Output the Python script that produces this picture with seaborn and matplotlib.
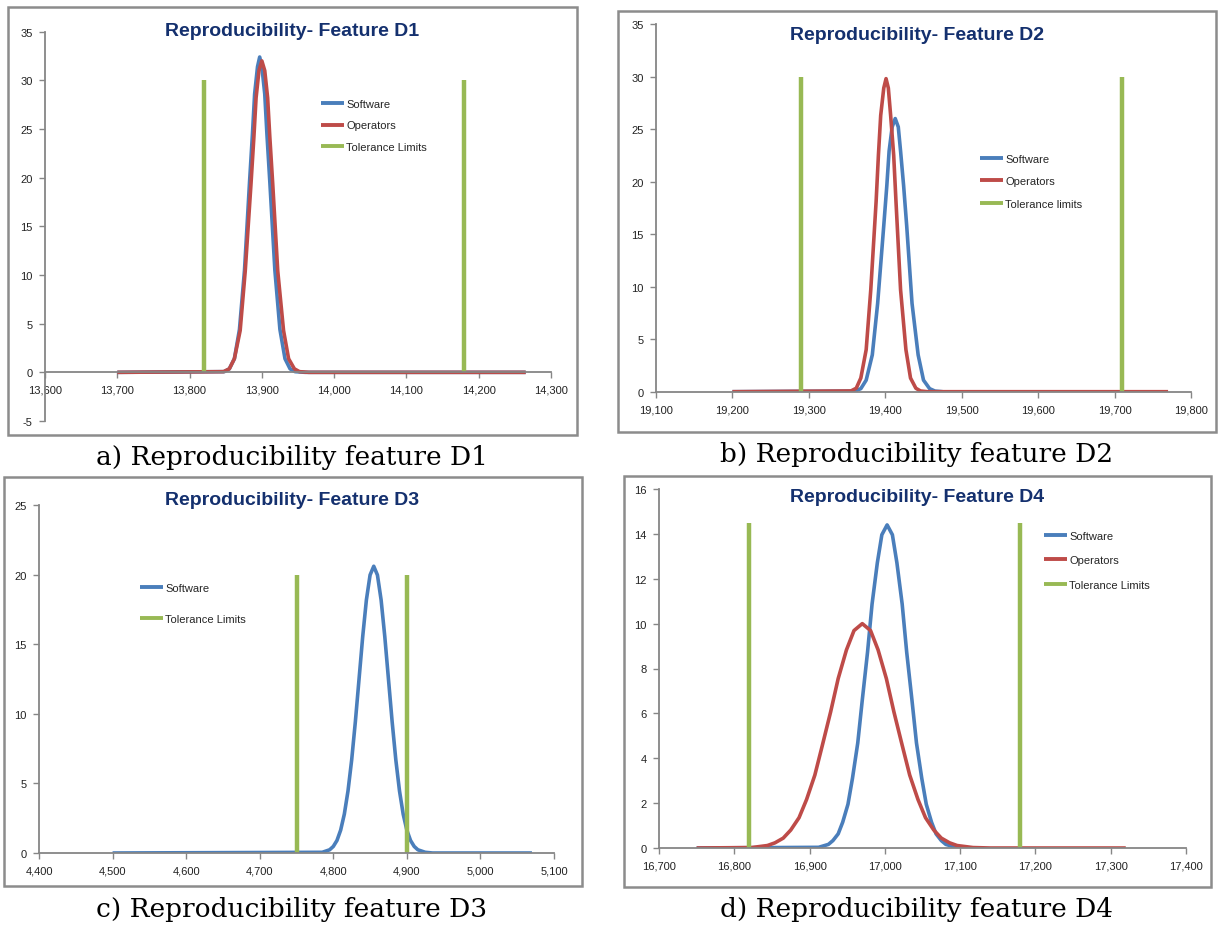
import matplotlib
matplotlib.use("Agg")
import matplotlib.pyplot as plt
import seaborn as sns
from matplotlib.lines import Line2D
from matplotlib.patches import Rectangle
from matplotlib.ticker import FuncFormatter, MultipleLocator

# --- data ---
# a) D1
d1_sw_x = [13700, 13848, 13855, 13862, 13869, 13876, 13883, 13887, 13890, 13894, 13897, 13900, 13904, 13907,
           13911, 13918, 13925, 13932, 13939, 13946, 13960, 14265]
d1_sw_y = [0, 0.07, 0.36, 1.4, 4.4, 10.5, 19.6, 24.5, 28.6, 31.4, 32.4, 31.4, 28.6, 24.5,
           19.6, 10.5, 4.4, 1.4, 0.36, 0.07, 0, 0]
d1_op_x = [13700, 13847, 13855, 13862, 13870, 13877, 13885, 13889, 13892, 13896, 13900, 13904, 13908, 13911,
           13915, 13922, 13930, 13937, 13945, 13952, 13965, 14265]
d1_op_y = [0, 0.07, 0.36, 1.4, 4.3, 10.4, 19.4, 24.2, 28.2, 31.0, 32.0, 31.0, 28.2, 24.2,
           19.4, 10.4, 4.3, 1.4, 0.36, 0.07, 0, 0]
d1_tol = [13820, 14180]
d1_tol_h = 30

# b) D2
d2_sw_x = [19200, 19360, 19368, 19375, 19383, 19390, 19398, 19402, 19405, 19409, 19413, 19417, 19420, 19424,
           19428, 19435, 19443, 19450, 19458, 19465, 19475]
d2_sw_y = [0, 0.06, 0.29, 1.1, 3.5, 8.4, 15.8, 19.6, 22.9, 25.2, 26.0, 25.2, 22.9, 19.6,
           15.8, 8.4, 3.5, 1.1, 0.29, 0.06, 0]
d2_op_x = [19200, 19355, 19362, 19368, 19375, 19381, 19388, 19391, 19394, 19398, 19401, 19404, 19407, 19411,
           19414, 19420, 19427, 19433, 19440, 19446, 19455, 19770]
d2_op_y = [0, 0.07, 0.33, 1.3, 4.0, 9.7, 18.1, 22.5, 26.3, 28.9, 29.8, 28.9, 26.3, 22.5,
           18.1, 9.7, 4.0, 1.3, 0.33, 0.07, 0, 0]
d2_tol = [19290, 19710]
d2_tol_h = 30

# c) D3
d3_sw_x = [4500, 4785, 4795, 4800, 4805, 4810, 4815, 4820, 4825, 4830, 4835, 4840, 4845, 4850, 4855,
           4860, 4865, 4870, 4875, 4880, 4885, 4890, 4895, 4900, 4905, 4910, 4915, 4925, 4935, 5070]
d3_sw_y = [0, 0.05, 0.23, 0.47, 0.9, 1.64, 2.79, 4.46, 6.69, 9.43, 12.49, 15.55, 18.18, 19.97, 20.6,
           19.97, 18.18, 15.55, 12.49, 9.43, 6.69, 4.46, 2.79, 1.64, 0.9, 0.47, 0.23, 0.05, 0, 0]
d3_tol = [4750, 4900]
d3_tol_h = 20

# d) D4
d4_sw_x = [16750, 16912, 16925, 16931, 16938, 16944, 16951, 16957, 16964, 16970, 16977, 16983, 16990, 16996,
           17003, 17010, 17016, 17023, 17029, 17036, 17042, 17049, 17055, 17062, 17068, 17075, 17081,
           17094, 17110, 17130]
d4_sw_y = [0, 0.03, 0.16, 0.33, 0.63, 1.15, 1.95, 3.11, 4.68, 6.59, 8.73, 10.87, 12.71, 13.96,
           14.4, 13.96, 12.71, 10.87, 8.73, 6.59, 4.68, 3.11, 1.95, 1.15, 0.63, 0.33, 0.16,
           0.03, 0, 0]
d4_op_x = [16750, 16823, 16844, 16854, 16865, 16875, 16886, 16896, 16907, 16917, 16928, 16938, 16949, 16959,
           16970, 16981, 16991, 17002, 17012, 17023, 17033, 17044, 17054, 17065, 17075, 17086, 17096,
           17117, 17140, 17320]
d4_op_y = [0, 0.02, 0.11, 0.23, 0.44, 0.8, 1.35, 2.16, 3.25, 4.58, 6.07, 7.55, 8.83, 9.69,
           10.0, 9.69, 8.83, 7.55, 6.07, 4.58, 3.25, 2.16, 1.35, 0.8, 0.44, 0.23, 0.11,
           0.02, 0, 0]
d4_tol = [16820, 17180]
d4_tol_h = 14.5

titles = ["Reproducibility- Feature D1", "Reproducibility- Feature D2",
          "Reproducibility- Feature D3", "Reproducibility- Feature D4"]
captions = ["a) Reproducibility feature D1", "b) Reproducibility feature D2",
            "c) Reproducibility feature D3", "d) Reproducibility feature D4"]

BLUE = "#4A7EBB"
RED = "#BE4B48"
GREEN = "#98B954"
NAVY = "#14306E"
GRAY = "#868686"

sns.set_theme(style="white")
plt.rcParams["font.family"] = ["Liberation Sans", "DejaVu Sans"]
plt.rcParams["axes.unicode_minus"] = False
plt.rcParams["lines.solid_joinstyle"] = "round"
plt.rcParams["lines.solid_capstyle"] = "butt"

W, H = 1219, 928
fig = plt.figure(figsize=(W / 100, H / 100), dpi=100)
fig.patch.set_facecolor("white")


def px_axes(x0, x1, ytop, ybot):
    return fig.add_axes([x0 / W, 1 - ybot / H, (x1 - x0) / W, (ybot - ytop) / H])


def box(x0, y0, x1, y1):
    fig.add_artist(Rectangle((x0 / W, 1 - y1 / H), (x1 - x0) / W, (y1 - y0) / H,
                             transform=fig.transFigure, fill=False, ec="#8c8c8c", lw=1.8))


def style_axes(ax, xlim, ylim, ystep):
    ax.set_xlim(*xlim)
    ax.set_ylim(*ylim)
    ax.xaxis.set_major_locator(MultipleLocator(100))
    ax.yaxis.set_major_locator(MultipleLocator(ystep))
    ax.xaxis.set_major_formatter(FuncFormatter(lambda v, p: f"{v:,.0f}"))
    ax.yaxis.set_major_formatter(FuncFormatter(lambda v, p: f"{v:.0f}"))
    for s in ["top", "right"]:
        ax.spines[s].set_visible(False)
    for s in ["left", "bottom"]:
        ax.spines[s].set_color(GRAY)
        ax.spines[s].set_linewidth(1.3)
    ax.tick_params(axis="both", which="major", length=4, width=1, color=GRAY,
                   labelsize=8, labelcolor="#222222", direction="out", pad=5,
                   bottom=True, left=True)
    ax.set_facecolor("none")
    ax.grid(False)
    ax.set_xlabel("")
    ax.set_ylabel("")


def draw(ax, sw, op, tol, tol_h):
    sns.lineplot(x=sw[0], y=sw[1], ax=ax, color=BLUE, lw=2.6, sort=False, estimator=None)
    if op is not None:
        sns.lineplot(x=op[0], y=op[1], ax=ax, color=RED, lw=2.6, sort=False, estimator=None)
    ax.vlines(tol, 0, tol_h, color=GREEN, lw=3.2)


def legend(ax, labels, colors, x, y, spacing):
    handles = [Line2D([0], [0], color=c, lw=2.8) for c in colors]
    ax.legend(handles, labels, loc="upper left", bbox_to_anchor=(x / W, 1 - y / H),
              bbox_transform=fig.transFigure, frameon=False, borderpad=0,
              borderaxespad=0, handlelength=2.1, handletextpad=0.15,
              labelspacing=spacing, fontsize=8)


# panel a
box(8, 8, 577, 436)
ax = px_axes(45, 551, 32.7, 422)
draw(ax, (d1_sw_x, d1_sw_y), (d1_op_x, d1_op_y), d1_tol, d1_tol_h)
style_axes(ax, (13600, 14300), (-5, 35), 5)
ax.spines["bottom"].set_position(("data", 0))
legend(ax, ["Software", "Operators", "Tolerance Limits"], [BLUE, RED, GREEN], 321, 100, 1.03)

# panel b
box(618, 12, 1216, 433)
ax = px_axes(656, 1191, 25, 392.7)
draw(ax, (d2_sw_x, d2_sw_y), (d2_op_x, d2_op_y), d2_tol, d2_tol_h)
style_axes(ax, (19100, 19800), (0, 35), 5)
legend(ax, ["Software", "Operators", "Tolerance limits"], [BLUE, RED, GREEN], 980, 155, 1.11)

# panel c
box(4, 478, 582, 887)
ax = px_axes(39, 554, 506, 854)
draw(ax, (d3_sw_x, d3_sw_y), None, d3_tol, d3_tol_h)
style_axes(ax, (4400, 5100), (0, 25), 5)
legend(ax, ["Software", "Tolerance Limits"], [BLUE, GREEN], 140, 584, 1.89)

# panel d
box(624, 477, 1211, 888)
ax = px_axes(659, 1186, 490, 849)
draw(ax, (d4_sw_x, d4_sw_y), (d4_op_x, d4_op_y), d4_tol, d4_tol_h)
style_axes(ax, (16700, 17400), (0, 16), 2)
legend(ax, ["Software", "Operators", "Tolerance Limits"], [BLUE, RED, GREEN], 1044, 532, 1.29)

# titles and captions
title_pos = [(292, 32), (917, 35), (292, 501), (917, 498)]
caption_pos = [(292, 457), (917, 455), (292, 910), (917, 910)]
for t, (x, y) in zip(titles, title_pos):
    fig.text(x / W, 1 - y / H, t, ha="center", va="center", fontsize=14,
             fontweight="bold", color=NAVY)
for c, (x, y) in zip(captions, caption_pos):
    fig.text(x / W, 1 - y / H, c, ha="center", va="center", fontsize=19,
             family="DejaVu Serif", color="black")

fig.savefig("out.png", dpi=100, facecolor="white")
